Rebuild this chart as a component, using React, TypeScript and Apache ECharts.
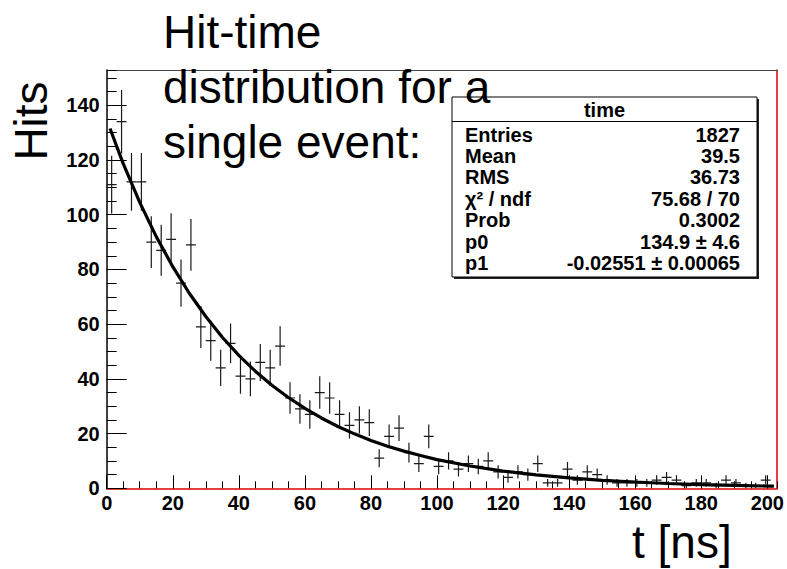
import React, { useEffect, useRef } from "react";
import * as echarts from "echarts";

// Histogram: bin width 3 ns, bins starting at 0
const binWidth = 3;
const counts = [
  111, 134, 112, 112, 90, 87, 91, 75, 89, 59,
  54, 44, 53, 41, 40, 46, 44, 52, 33, 29,
  27, 35, 33, 27, 23, 25, 24, 11, 19, 22,
  13, 9, 19, 8, 10, 7, 9, 8, 10, 6,
  4, 6, 5, 9, 2, 2, 7, 3, 6, 5,
  3, 2, 2, 2, 2, 3, 4, 3, 1, 2,
  2, 1, 3, 2, 1, 1, 3,
];

// Fit curve
const fitX = [1, 5, 10, 15, 20, 25, 30, 35, 40, 45, 50, 55, 60, 65, 70, 75, 80, 85, 90, 95, 100, 110, 120, 130, 140, 150, 160, 170, 180, 190, 200, 202];
const fitY = [131.5, 118.7, 104.5, 92.0, 81.0, 71.3, 62.8, 55.2, 48.6, 42.8, 37.7, 33.2, 29.2, 25.7, 22.6, 19.9, 17.5, 15.4, 13.6, 12.0, 10.5, 8.15, 6.3, 4.9, 3.8, 2.9, 2.3, 1.76, 1.37, 1.06, 0.82, 0.78];

const statTitle = "time";
const statLabels = ["Entries", "Mean", "RMS", "χ² / ndf", "Prob", "p0", "p1"];
const statValues = ["1827", "39.5", "36.73", "75.68 / 70", "0.3002", "134.9 ± 4.6", "-0.02551 ± 0.00065"];

const titleLines = ["Hit-time", "distribution for a", "single event:"];
const yTitle = "Hits";
const xTitle = "t [ns]";

const FONT = "'Liberation Sans', Arial, Helvetica, sans-serif";

export default function App() {
  const ref = useRef<HTMLDivElement>(null);
  useEffect(() => {
    if (!ref.current) return;
    const chart = echarts.init(ref.current, undefined, { renderer: "svg" });

    const histData = counts.map((c, i) => [(i + 0.5) * binWidth, c]);
    const fitData = fitX.map((x, i) => [x, fitY[i]]);

    const labelStyle = { color: "#000", fontFamily: FONT, fontWeight: "bold" as const, fontSize: 20 };

    const graphic: any[] = [];
    titleLines.forEach((t, i) => {
      graphic.push({
        type: "text", x: 163, y: 32 + i * 55, z: 100,
        style: { text: t, fill: "#000", fontFamily: FONT, fontSize: 46, align: "left", verticalAlign: "middle", textAlign: "left", textVerticalAlign: "middle" },
      });
    });
    graphic.push({
      type: "text", x: 31, y: 121, rotation: Math.PI / 2, z: 100,
      style: { text: yTitle, fill: "#000", fontFamily: FONT, fontSize: 46, align: "center", verticalAlign: "middle", textAlign: "center", textVerticalAlign: "middle" },
    });
    graphic.push({
      type: "text", x: 632, y: 542, z: 100,
      style: { text: xTitle, fill: "#000", fontFamily: FONT, fontSize: 46, align: "left", verticalAlign: "middle", textAlign: "left", textVerticalAlign: "middle" },
    });
    // stats box
    const bx = 452, by = 97, bw = 305, bh = 180;
    graphic.push({ type: "rect", z: 90, shape: { x: bx + 2, y: by + 2, width: bw, height: bh }, style: { fill: "#222" } });
    graphic.push({ type: "rect", z: 91, shape: { x: bx, y: by, width: bw, height: bh }, style: { fill: "#fff", stroke: "#000", lineWidth: 1 } });
    graphic.push({ type: "line", z: 92, shape: { x1: bx, y1: 121.5, x2: bx + bw, y2: 121.5 }, style: { stroke: "#000", lineWidth: 1 } });
    graphic.push({
      type: "text", x: bx + bw / 2, y: 110, z: 93,
      style: { text: statTitle, fill: "#000", fontFamily: FONT, fontWeight: "bold", fontSize: 20, align: "center", verticalAlign: "middle", textAlign: "center", textVerticalAlign: "middle" },
    });
    statLabels.forEach((l, i) => {
      const y = 134.5 + i * 21.4;
      graphic.push({
        type: "text", x: 465, y, z: 93,
        style: { text: l, fill: "#000", fontFamily: FONT, fontWeight: "bold", fontSize: 20, align: "left", verticalAlign: "middle", textAlign: "left", textVerticalAlign: "middle" },
      });
      graphic.push({
        type: "text", x: 740, y, z: 93,
        style: { text: statValues[i], fill: "#000", fontFamily: FONT, fontWeight: "bold", fontSize: 20, align: "right", verticalAlign: "middle", textAlign: "right", textVerticalAlign: "middle" },
      });
    });

    const option: any = {
      animation: false,
      backgroundColor: "#fff",
      grid: { left: 106.7, top: 70, right: 5, bottom: 80.7, show: false },
      xAxis: [
        {
          type: "value", position: "bottom", min: 0, max: 203, interval: 20,
          axisLine: { show: true, onZero: false, lineStyle: { color: "#e00000", width: 1.5 } },
          axisTick: { show: true, inside: true, length: 13, lineStyle: { color: "#000", width: 1 } },
          axisLabel: { ...labelStyle, margin: 5, showMaxLabel: false },
          splitLine: { show: false },
        },
        {
          type: "value", position: "bottom", min: 0, max: 203, interval: 5,
          axisLine: { show: false, onZero: false },
          axisTick: { show: true, inside: true, length: 7, lineStyle: { color: "#000", width: 1 } },
          axisLabel: { show: false },
          splitLine: { show: false },
        },
        {
          type: "value", position: "top", min: 0, max: 203,
          axisLine: { show: true, onZero: false, lineStyle: { color: "#444", width: 1 } },
          axisTick: { show: false }, axisLabel: { show: false }, splitLine: { show: false },
        },
      ],
      yAxis: [
        {
          type: "value", position: "left", min: 0, max: 152.9, interval: 20,
          axisLine: { show: true, onZero: false, lineStyle: { color: "#000", width: 1.5 } },
          axisTick: { show: true, inside: true, length: 20, lineStyle: { color: "#000", width: 1 } },
          axisLabel: { ...labelStyle, margin: 7, showMaxLabel: false },
          splitLine: { show: false },
        },
        {
          type: "value", position: "left", min: 0, max: 152.9, interval: 5,
          axisLine: { show: false, onZero: false },
          axisTick: { show: true, inside: true, length: 10, lineStyle: { color: "#000", width: 1 } },
          axisLabel: { show: false },
          splitLine: { show: false },
        },
        {
          type: "value", position: "right", min: 0, max: 152.9,
          axisLine: { show: true, onZero: false, lineStyle: { color: "#e00000", width: 1.5 } },
          axisTick: { show: false }, axisLabel: { show: false }, splitLine: { show: false },
        },
      ],
      series: [
        {
          type: "custom",
          xAxisIndex: 0, yAxisIndex: 0,
          data: histData,
          clip: true,
          z: 5,
          renderItem: (params: any, api: any) => {
            const x = api.value(0);
            const y = api.value(1);
            const e = Math.sqrt(y);
            const l = api.coord([x - binWidth / 2, y]);
            const r = api.coord([x + binWidth / 2, y]);
            const t = api.coord([x, y + e]);
            const b = api.coord([x, y - e]);
            const style = { stroke: "#1a1a1a", lineWidth: 1.2 };
            return {
              type: "group",
              children: [
                { type: "line", shape: { x1: l[0], y1: l[1], x2: r[0], y2: r[1] }, style },
                { type: "line", shape: { x1: t[0], y1: t[1], x2: b[0], y2: b[1] }, style },
              ],
            };
          },
        },
        {
          type: "line",
          xAxisIndex: 0, yAxisIndex: 0,
          data: fitData,
          showSymbol: false,
          symbol: "none",
          smooth: false,
          z: 6,
          lineStyle: { color: "#000", width: 3.2 },
        },
      ],
      graphic,
    };
    chart.setOption(option);
    return () => chart.dispose();
  }, []);

  return <div ref={ref} style={{ position: "fixed", left: 0, top: 0, width: 787, height: 569, background: "#fff" }} />;
}
